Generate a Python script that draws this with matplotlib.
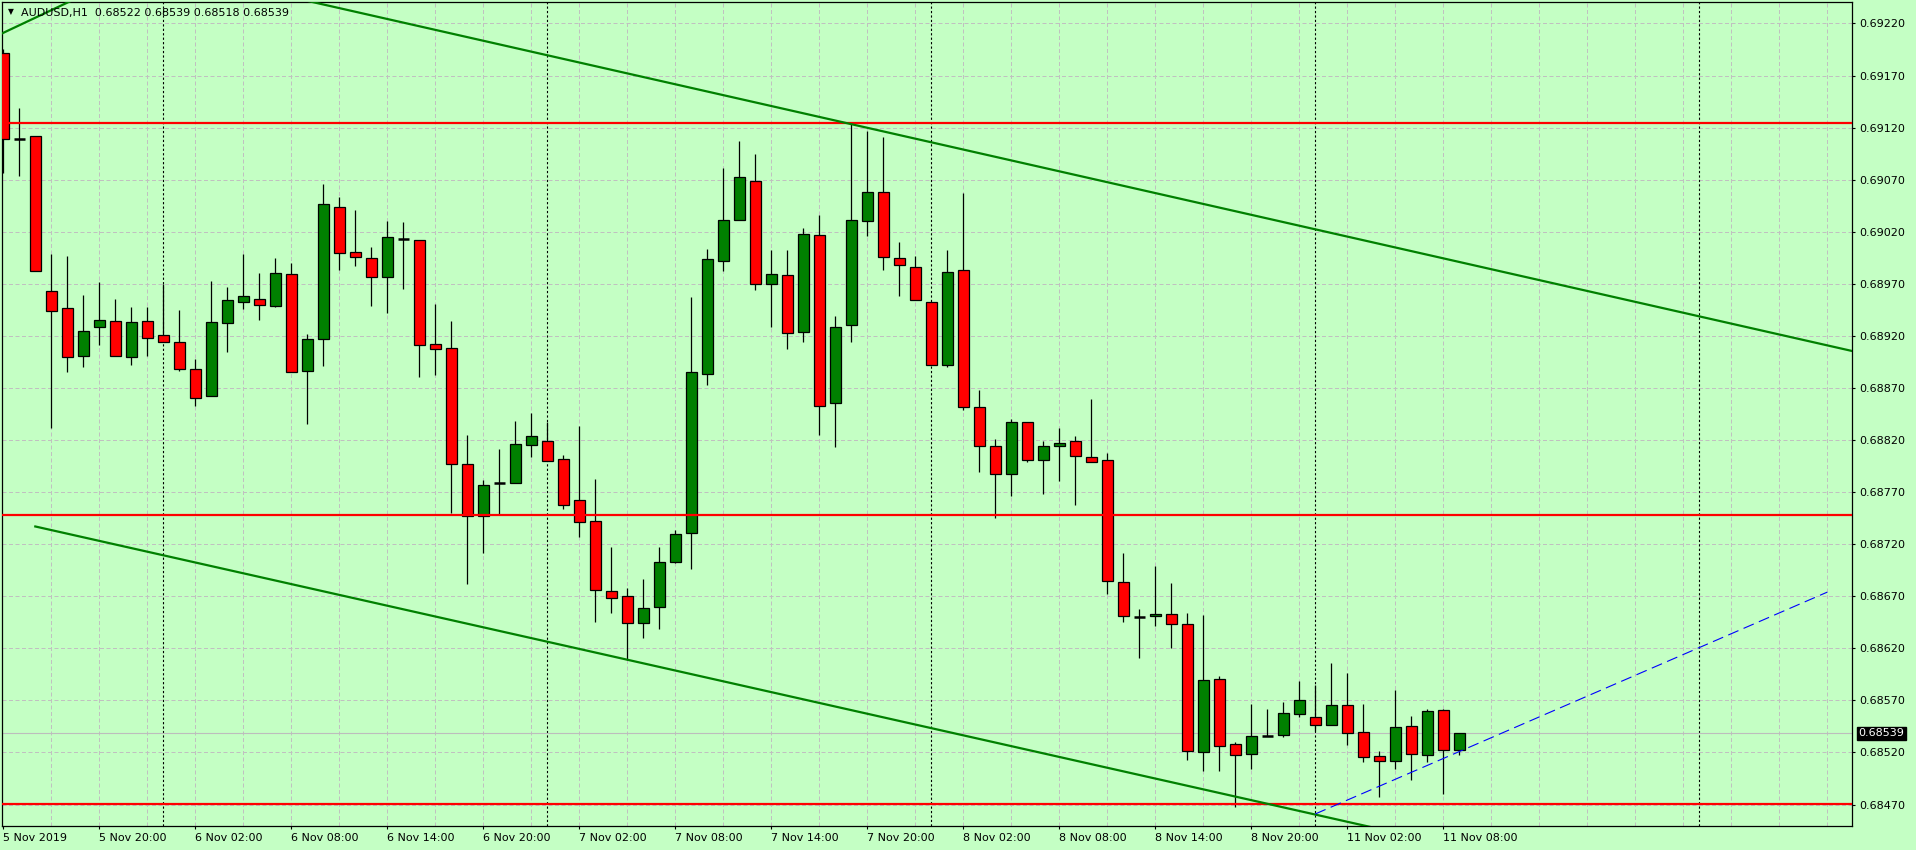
import numpy as np
import matplotlib
matplotlib.use("Agg")
import matplotlib.pyplot as plt
from matplotlib.patches import Rectangle

# AUDUSD H1, one value per bar (bar 0 = 5 Nov 14:00)
opens = [0.69192, 0.69109, 0.69112, 0.68963, 0.68947, 0.68901, 0.68929, 0.68934, 0.68900, 0.68934,
         0.68921, 0.68914, 0.68888, 0.68862, 0.68932, 0.68953, 0.68955, 0.68949, 0.68979, 0.68886,
         0.68917, 0.69044, 0.69001, 0.68995, 0.68977, 0.69013, 0.69012, 0.68912, 0.68908, 0.68797,
         0.68747, 0.68779, 0.68779, 0.68815, 0.68819, 0.68802, 0.68762, 0.68742, 0.68675, 0.68670,
         0.68644, 0.68660, 0.68703, 0.68731, 0.68883, 0.68992, 0.69031, 0.69069, 0.68970, 0.68978,
         0.68924, 0.69017, 0.68856, 0.68930, 0.69030, 0.69058, 0.68995, 0.68986, 0.68953, 0.68892,
         0.68983, 0.68852, 0.68814, 0.68787, 0.68837, 0.68801, 0.68814, 0.68819, 0.68804, 0.68801,
         0.68684, 0.68650, 0.68651, 0.68653, 0.68643, 0.68520, 0.68591, 0.68528, 0.68519, 0.68536,
         0.68537, 0.68557, 0.68554, 0.68546, 0.68566, 0.68540, 0.68517, 0.68512, 0.68545, 0.68518,
         0.68561, 0.68522]
highs = [0.69195, 0.69139, 0.69112, 0.68999, 0.68997, 0.68959, 0.68972, 0.68955, 0.68948, 0.68948,
         0.68970, 0.68945, 0.68898, 0.68973, 0.68967, 0.68999, 0.68980, 0.68995, 0.68990, 0.68922,
         0.69066, 0.69053, 0.69041, 0.69005, 0.69030, 0.69029, 0.69012, 0.68951, 0.68934, 0.68825,
         0.68782, 0.68811, 0.68838, 0.68846, 0.68837, 0.68806, 0.68833, 0.68783, 0.68717, 0.68678,
         0.68687, 0.68717, 0.68734, 0.68957, 0.69003, 0.69081, 0.69107, 0.69095, 0.69002, 0.69002,
         0.69024, 0.69036, 0.68939, 0.69124, 0.69117, 0.69111, 0.69010, 0.68997, 0.68953, 0.69002,
         0.69057, 0.68868, 0.68821, 0.68840, 0.68837, 0.68819, 0.68832, 0.68824, 0.68859, 0.68808,
         0.68712, 0.68658, 0.68699, 0.68683, 0.68654, 0.68652, 0.68593, 0.68530, 0.68567, 0.68562,
         0.68568, 0.68589, 0.68585, 0.68606, 0.68596, 0.68567, 0.68521, 0.68580, 0.68555, 0.68562,
         0.68562, 0.68539]
lows = [0.69076, 0.69074, 0.68982, 0.68832, 0.68885, 0.68890, 0.68911, 0.68901, 0.68892, 0.68901,
        0.68914, 0.68886, 0.68853, 0.68862, 0.68905, 0.68946, 0.68935, 0.68948, 0.68885, 0.68835,
        0.68891, 0.68983, 0.68987, 0.68949, 0.68942, 0.68965, 0.68881, 0.68882, 0.68750, 0.68682,
        0.68712, 0.68749, 0.68779, 0.68804, 0.68800, 0.68754, 0.68727, 0.68645, 0.68654, 0.68609,
        0.68630, 0.68639, 0.68702, 0.68696, 0.68873, 0.68982, 0.69031, 0.68964, 0.68929, 0.68907,
        0.68914, 0.68825, 0.68813, 0.68914, 0.69016, 0.68983, 0.68958, 0.68954, 0.68892, 0.68890,
        0.68849, 0.68789, 0.68745, 0.68766, 0.68799, 0.68768, 0.68781, 0.68758, 0.68799, 0.68672,
        0.68645, 0.68611, 0.68641, 0.68620, 0.68513, 0.68502, 0.68502, 0.68468, 0.68504, 0.68536,
        0.68535, 0.68554, 0.68541, 0.68546, 0.68527, 0.68511, 0.68477, 0.68504, 0.68494, 0.68511,
        0.68480, 0.68518]
closes = [0.69109, 0.69109, 0.68982, 0.68944, 0.68900, 0.68925, 0.68935, 0.68901, 0.68933, 0.68918,
          0.68914, 0.68888, 0.68860, 0.68933, 0.68954, 0.68958, 0.68950, 0.68980, 0.68885, 0.68917,
          0.69047, 0.69000, 0.68996, 0.68977, 0.69015, 0.69013, 0.68911, 0.68907, 0.68797, 0.68747,
          0.68777, 0.68779, 0.68816, 0.68824, 0.68800, 0.68758, 0.68741, 0.68676, 0.68668, 0.68644,
          0.68659, 0.68703, 0.68730, 0.68885, 0.68994, 0.69031, 0.69073, 0.68970, 0.68979, 0.68923,
          0.69018, 0.68853, 0.68929, 0.69031, 0.69058, 0.68996, 0.68988, 0.68954, 0.68892, 0.68981,
          0.68852, 0.68814, 0.68787, 0.68837, 0.68801, 0.68814, 0.68817, 0.68805, 0.68799, 0.68685,
          0.68651, 0.68650, 0.68653, 0.68643, 0.68521, 0.68590, 0.68526, 0.68518, 0.68536, 0.68536,
          0.68558, 0.68570, 0.68546, 0.68566, 0.68539, 0.68516, 0.68512, 0.68544, 0.68519, 0.68560,
          0.68522, 0.68539]

x_labels = ["5 Nov 2019", "5 Nov 20:00", "6 Nov 02:00", "6 Nov 08:00", "6 Nov 14:00",
            "6 Nov 20:00", "7 Nov 02:00", "7 Nov 08:00", "7 Nov 14:00", "7 Nov 20:00",
            "8 Nov 02:00", "8 Nov 08:00", "8 Nov 14:00", "8 Nov 20:00", "11 Nov 02:00",
            "11 Nov 08:00"]
x_label_bars = [0, 6, 12, 18, 24, 30, 36, 42, 48, 54, 60, 66, 72, 78, 84, 90]
day_breaks = [10, 34, 58, 82, 106]
price_ticks = [0.69220, 0.69170, 0.69120, 0.69070, 0.69020, 0.68970, 0.68920, 0.68870,
               0.68820, 0.68770, 0.68720, 0.68670, 0.68620, 0.68570, 0.68520, 0.68470]

# chart objects
levels = [0.69124, 0.68748, 0.68471]
upper_x, upper_y = [19.2, 115.4], [0.69241, 0.68906]
lower_x, lower_y = [2, 85], [0.68737, 0.68450]
corner_x, corner_y = [0, 4], [0.69211, 0.69240]
blue_x, blue_y = [82, 114], [0.68461, 0.68674]
bid = 0.68539
title = "AUDUSD,H1  0.68522 0.68539 0.68518 0.68539"

bg = "#C4FFC4"
grid_c = "#C0C0C0"
W, H = 1916, 850

fig = plt.figure(figsize=(W / 100, H / 100), dpi=100)
fig.patch.set_facecolor(bg)
ax = fig.add_axes([2 / W, 24 / H, 1850 / W, 824 / H])
ax.set_facecolor(bg)
ax.set_xlim(-0.081, 115.54)
ax.set_ylim(0.684494, 0.692406)

# grid + day separators
for p in price_ticks:
    ax.axhline(p, color=grid_c, lw=0.72, ls=(0, (4, 2.5)), zorder=0.5)
for b in np.arange(3, 116, 3):
    ax.axvline(b, color=grid_c, lw=0.72, ls=(0, (4, 2.5)), zorder=0.5)
for b in day_breaks:
    ax.axvline(b, color="black", lw=0.8, ls=(0, (2, 2)), zorder=0.6)

# bid line
ax.axhline(bid, color="#BDBDBD", lw=0.8, zorder=0.7)

# candles
w = 0.67
for i in range(len(opens)):
    o, h, l, c = opens[i], highs[i], lows[i], closes[i]
    ax.vlines(i, l, h, color="black", lw=0.9, zorder=2)
    if o == c:
        ax.hlines(o, i - w / 2, i + w / 2, color="black", lw=1.8, zorder=3)
        continue
    col = "#008000" if c > o else "#FF0000"
    ax.add_patch(Rectangle((i - w / 2, min(o, c)), w, abs(c - o),
                           facecolor=col, edgecolor="black", lw=0.9, zorder=3))

# horizontal levels
for lv in levels:
    ax.axhline(lv, color="#FF0000", lw=1.6, zorder=4)

# trend lines (extended as rays)
def extend(xs, ys, x0, x1):
    k = (ys[1] - ys[0]) / (xs[1] - xs[0])
    return [x0, x1], [ys[0] + k * (x0 - xs[0]), ys[0] + k * (x1 - xs[0])]

ux, uy = extend(upper_x, upper_y, 0, 116)
ax.plot(ux, uy, color="#008000", lw=1.6, zorder=4)
lx, ly = extend(lower_x, lower_y, lower_x[0], 116)
ax.plot(lx, ly, color="#008000", lw=1.6, zorder=4)
cx, cy = extend(corner_x, corner_y, -1, 6)
ax.plot(cx, cy, color="#008000", lw=1.6, zorder=4)
ax.plot(blue_x, blue_y, color="#0000FF", lw=0.8, ls=(0, (10, 5)), zorder=4)

# axes styling
for s in ax.spines.values():
    s.set_color("black")
    s.set_linewidth(0.9)
ax.yaxis.tick_right()
ax.set_yticks(price_ticks)
ax.set_yticklabels(["%.5f" % p for p in price_ticks])
ax.set_xticks(x_label_bars)
ax.set_xticklabels(x_labels, ha="left")
ax.tick_params(axis="y", length=2.5, width=0.8, pad=3, labelsize=8, colors="black")
ax.tick_params(axis="x", length=2.5, width=0.8, pad=2.5, labelsize=8, colors="black")

# header text
fig.text(11 / W, 1 - 12 / H, "\u25BC", fontsize=5.5, ha="center", va="center", color="black")
fig.text(21 / W, 1 - 12.7 / H, title, fontsize=8, ha="left", va="center", color="black")

# current price box
fig.text(1858.5 / W, 1 - 733.5 / H, "%.5f" % bid, fontsize=8, ha="left", va="center",
         color="white", bbox=dict(facecolor="black", edgecolor="black", pad=1.2))

fig.savefig("out.png", dpi=100, facecolor=bg)
